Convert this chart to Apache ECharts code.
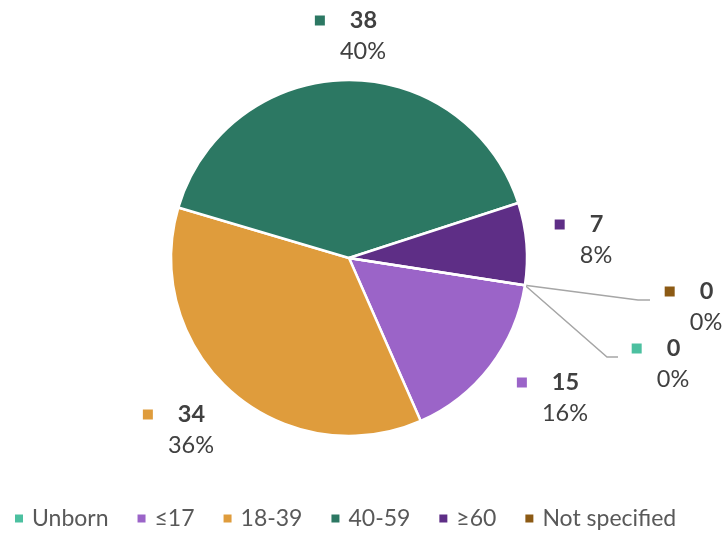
<!DOCTYPE html>
<html>
<head>
<meta charset="utf-8">
<script src="https://cdn.jsdelivr.net/npm/echarts@6/dist/echarts.min.js"></script>
<style>html,body{margin:0;padding:0;background:#fff}#c{width:724px;height:534px}</style>
</head>
<body>
<div id="c"></div>
<script>
const categories = ['Unborn', '≤17', '18-39', '40-59', '≥60', 'Not specified'];
const values = [0, 15, 34, 38, 7, 0];
const pctLabels = ['0%', '16%', '36%', '40%', '8%', '0%'];
const colors = ['#4CC0A0', '#9B64C8', '#DF9C3C', '#2C7863', '#5E2E86', '#8C5A14'];
// label block centres (layout only)
const labelPos = [[673, 364], [565, 398], [191, 430], [363, 36], [596, 240], [706, 307]];
const labelLineBend = [[607, 357, 618, 357], null, null, null, null, [638, 300, 650, 300]];

const FONT = 'Lato';
const rich = {
  g: { width: 25 },
  s: { width: 9 },
  b: { fontFamily: FONT, fontSize: 23.5, fontWeight: 'bold', color: '#404040', lineHeight: 31 },
  p: { fontFamily: FONT, fontSize: 23.5, color: '#404040', lineHeight: 31 }
};
colors.forEach((c, i) => {
  rich['m' + i] = { width: 10, height: 10, backgroundColor: c, verticalAlign: 'middle', fontSize: 1 };
});

const chart = echarts.init(document.getElementById('c'));
chart.setOption({
  animation: false,
  color: colors,
  legend: {
    data: categories,
    left: 13,
    top: 507,
    padding: 0,
    icon: 'rect',
    itemWidth: 10,
    itemHeight: 10,
    itemGap: 27,
    textStyle: { fontFamily: FONT, fontSize: 23, color: '#595959', padding: [0, 0, 0, 3] }
  },
  series: [{
    type: 'pie',
    center: [349, 258],
    radius: 178,
    startAngle: -8.8,
    clockwise: true,
    avoidLabelOverlap: false,
    minShowLabelAngle: -1,
    itemStyle: { borderColor: '#fff', borderWidth: 2.5 },
    label: {
      show: true,
      position: 'outside',
      rich: rich,
      formatter: p => '{m' + p.dataIndex + '| }{g| }{b|' + values[p.dataIndex] + '}{g| }{s| }\n{p|' + pctLabels[p.dataIndex] + '}'
    },
    labelLine: { show: false, lineStyle: { color: '#A6A6A6', width: 1.5 } },
    labelLayout: function (params) {
      const i = params.dataIndex;
      const res = { x: labelPos[i][0], y: labelPos[i][1], align: 'center', verticalAlign: 'middle' };
      if (labelLineBend[i] && params.labelLinePoints) {
        const st = params.labelLinePoints[0];
        const b = labelLineBend[i];
        res.labelLinePoints = [[st[0], st[1]], [b[0], b[1]], [b[2], b[3]]];
      }
      return res;
    },
    data: categories.map((name, i) => ({
      name: name,
      value: values[i],
      labelLine: { show: !!labelLineBend[i] }
    }))
  }]
});
</script>
</body>
</html>
